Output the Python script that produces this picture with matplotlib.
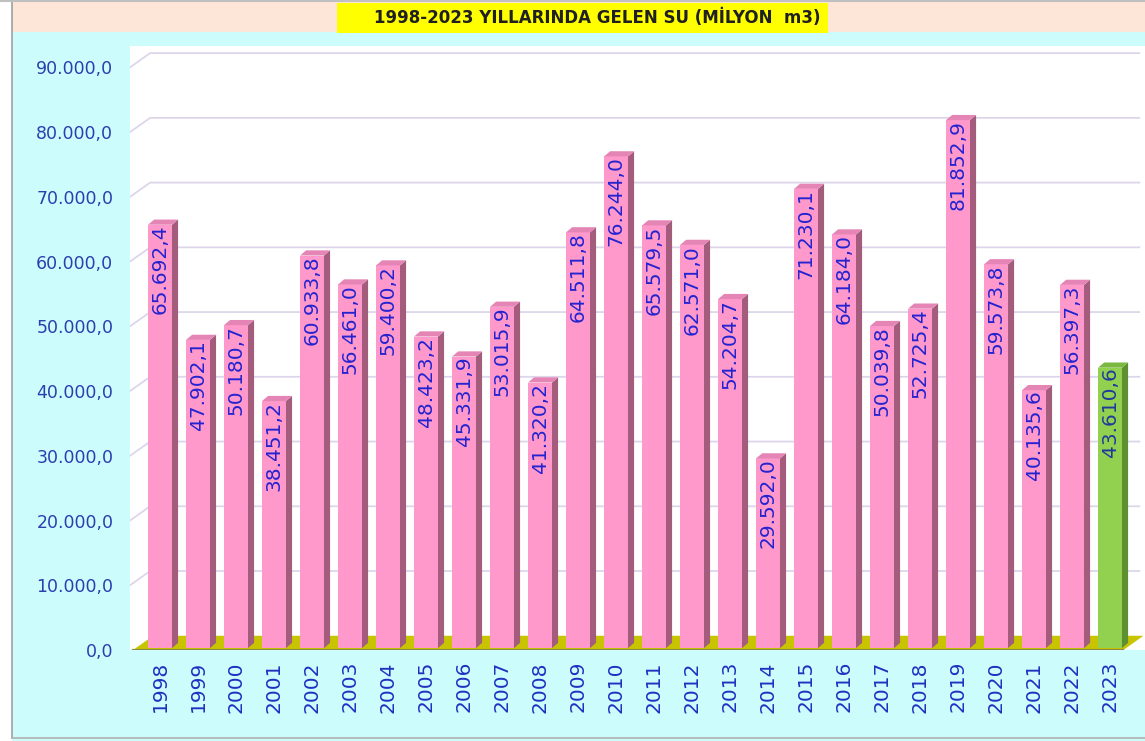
import matplotlib.pyplot as plt
from matplotlib.patches import Polygon, Rectangle
import numpy as np

years = ["1998", "1999", "2000", "2001", "2002", "2003", "2004", "2005", "2006",
         "2007", "2008", "2009", "2010", "2011", "2012", "2013", "2014", "2015",
         "2016", "2017", "2018", "2019", "2020", "2021", "2022", "2023"]
values = [65692.4, 47902.1, 50180.7, 38451.2, 60933.8, 56461.0, 59400.2, 48423.2,
          45331.9, 53015.9, 41320.2, 64511.8, 76244.0, 65579.5, 62571.0, 54204.7,
          29592.0, 71230.1, 64184.0, 50039.8, 52725.4, 81852.9, 59573.8, 40135.6,
          56397.3, 43610.6]
yticks = [0, 10000, 20000, 30000, 40000, 50000, 60000, 70000, 80000, 90000]
title = "1998-2023 YILLARINDA GELEN SU (MİLYON  m3)"


def tr_fmt(v):
    s = f"{v:,.1f}"
    return s.replace(",", "X").replace(".", ",").replace("X", ".")


fig = plt.figure(figsize=(11.45, 7.41), dpi=100)
fig.patch.set_facecolor("#ccfcfc")

# top strip and frame
fig.add_artist(Rectangle((0, 1 - 32 / 741), 1, 32 / 741, transform=fig.transFigure,
                         facecolor="#fde6d8", edgecolor="none", zorder=0))
fig.add_artist(Rectangle((0, 0), 12 / 1145, 1, transform=fig.transFigure,
                         facecolor="white", edgecolor="none", zorder=0))
fig.add_artist(plt.Line2D([12 / 1145, 12 / 1145], [3 / 741, 1], transform=fig.transFigure,
                          color="#a0a0a0", lw=1.2))
fig.add_artist(plt.Line2D([12 / 1145, 1], [3 / 741, 3 / 741], transform=fig.transFigure,
                          color="#b0b0b0", lw=1.2))
fig.add_artist(plt.Line2D([0, 1], [1 - 1 / 741, 1 - 1 / 741], transform=fig.transFigure,
                          color="#c0c0c0", lw=1.5))
fig.add_artist(Rectangle((337 / 1145, 1 - 33 / 741), 491 / 1145, 30 / 741,
                         transform=fig.transFigure, facecolor="#ffff00",
                         edgecolor="none", zorder=1))
fig.text(597 / 1145, 1 - 18 / 741, title, ha="center", va="center",
         fontsize=12, fontweight="bold", color="#202020", zorder=2)

ax = fig.add_axes([130 / 1145, 91 / 741, 1015 / 1145, 604 / 741])
ax.set_facecolor("white")
x = np.arange(len(years))
x0, x1 = -0.79, 25.92
ax.set_xlim(x0, x1)
ax.set_ylim(0, 93300)

# depth offsets
gdx, gdy = 0.53, 2200
bdx, bdy = 0.16, 800
w = 0.63

# gridlines (with slanted start)
for t in yticks[1:]:
    ax.plot([x0, x0 + gdx, x1 - 0.15], [t, t + gdy, t + gdy], color="#ddd6ea",
            lw=1.3, zorder=1)

# floor
ax.add_patch(Polygon([[x0 + 0.08, 0], [25.35, 0], [25.35 + gdx, gdy],
                      [x0 + 0.08 + gdx, gdy]], closed=True, facecolor="#c8c400",
                     edgecolor="none", zorder=2))
ax.plot([x0 + 0.08, 25.35], [0, 0], color="#8a8a40", lw=1.5, zorder=2)

for i, v in enumerate(values):
    if years[i] == "2023":
        front, side, top, lab = "#92d050", "#5e8f30", "#7ab840", "#1f3a9a"
    else:
        front, side, top, lab = "#ff99cc", "#a45c7c", "#e585b5", "#2323d0"
    xl = x[i] - w / 2
    xr = x[i] + w / 2
    ax.add_patch(Rectangle((xl, 300), w, v - 300, facecolor=front, edgecolor="none",
                           zorder=3))
    ax.add_patch(Polygon([[xr, 300], [xr + bdx, 300 + bdy], [xr + bdx, v + bdy],
                          [xr, v]], closed=True, facecolor=side, edgecolor="none",
                         zorder=3))
    ax.add_patch(Polygon([[xl, v], [xr, v], [xr + bdx, v + bdy], [xl + bdx, v + bdy]],
                         closed=True, facecolor=top, edgecolor="none", zorder=3))
    ax.text(x[i], v, tr_fmt(v), rotation=90, ha="center", va="top",
            fontsize=14.5, color=lab, zorder=4)

ax.set_yticks(yticks)
ax.set_yticklabels([tr_fmt(t) for t in yticks], fontsize=12.5, color="#2b3fae")
ax.set_xticks(x)
ax.set_xticklabels(years, rotation=90, fontsize=14.5, color="#2030c0")
ax.tick_params(length=0)
ax.tick_params(axis="y", pad=12)
ax.tick_params(axis="x", pad=8)
for s in ax.spines.values():
    s.set_visible(False)

fig.savefig("out.png", dpi=100, facecolor=fig.get_facecolor())
